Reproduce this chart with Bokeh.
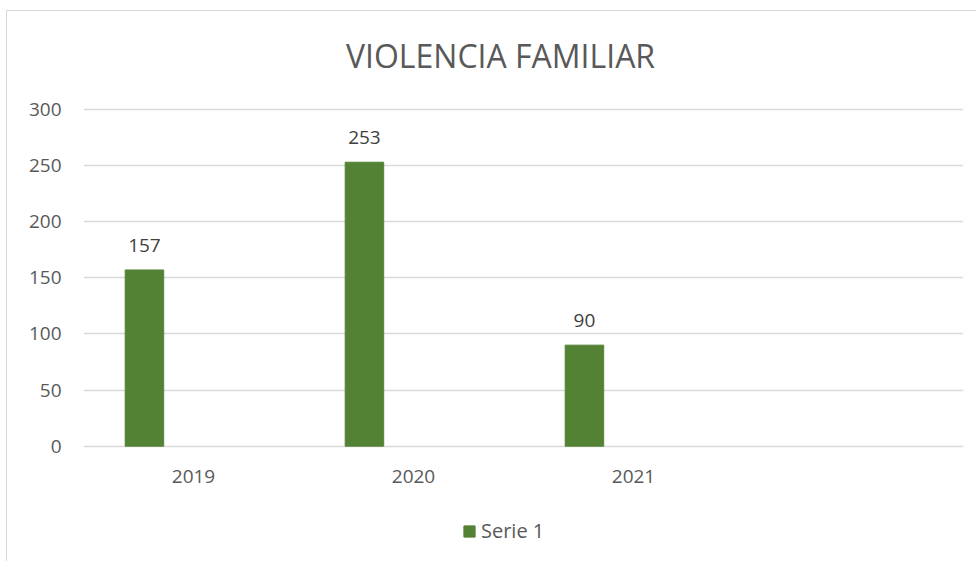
from bokeh.plotting import figure
from bokeh.models import (ColumnDataSource, LabelSet, Label, Range1d, FixedTicker,
                          Legend, LegendItem)
from bokeh.core.properties import value
from bokeh.embed import file_html
from bokeh.resources import INLINE

# ---- data ----
categories = ["2019", "2020", "2021", ""]
serie1 = [157, 253, 90]
series_name = "Serie 1"
title_text = "VIOLENCIA FAMILIAR"
y_ticks = [0, 50, 100, 150, 200, 250, 300]

# ---- style ----
BAR_COLOR = "#548235"
TEXT_COLOR = "#595959"
LABEL_COLOR = "#404040"
GRID_COLOR = "#d9d9d9"
FONT = "Open Sans"
BAR_OFFSET = -0.223
BAR_WIDTH = 0.175

xs = [i + 0.5 + BAR_OFFSET for i in range(len(serie1))]
src = ColumnDataSource(dict(x=xs, top=serie1, lab=[str(v) for v in serie1]))
cat_src = ColumnDataSource(dict(x=[i + 0.5 for i in range(len(categories))],
                                y=[0] * len(categories), lab=categories))

# frame spans the full height; y range extends above/below the data area
p = figure(width=970, height=551, output_backend="svg", toolbar_location=None,
           x_range=Range1d(0, len(categories)), y_range=Range1d(-99.2, 387.3),
           x_axis_location=None,
           min_border_left=76, min_border_right=14, min_border_top=0,
           min_border_bottom=5)
p.styles = {"border-top": "1px solid #d9d9d9", "border-left": "1px solid #d9d9d9",
            "margin-left": "6px", "margin-top": "10px"}
p.outline_line_color = None
p.background_fill_color = "white"
p.border_fill_color = "white"

title = Label(x=417, y=502, x_units="screen", y_units="screen", text=title_text,
              text_align="center", text_baseline="alphabetic", text_font=FONT,
              text_font_size="32px", text_color=TEXT_COLOR)
p.add_layout(title)

r = p.vbar(x="x", top="top", width=BAR_WIDTH, bottom=0, source=src,
           fill_color=BAR_COLOR, line_color=BAR_COLOR)

labels = LabelSet(x="x", y="top", text="lab", source=src, text_align="center",
                  text_baseline="alphabetic", y_offset=18, text_font=value(FONT),
                  text_font_size=value("19px"), text_color=LABEL_COLOR)
p.add_layout(labels)

cat_labels = LabelSet(x="x", y="y", text="lab", source=cat_src, text_align="center",
                      text_baseline="middle", y_offset=-30, text_font=value(FONT),
                      text_font_size=value("19px"), text_color=TEXT_COLOR)
p.add_layout(cat_labels)

# y axis
p.yaxis.ticker = FixedTicker(ticks=y_ticks)
ax = p.yaxis[0]
ax.axis_line_color = None
ax.major_tick_line_color = None
ax.minor_tick_line_color = None
ax.major_tick_out = 0
ax.major_tick_in = 0
ax.major_label_text_font = FONT
ax.major_label_text_font_size = "19px"
ax.major_label_text_color = TEXT_COLOR
ax.major_label_standoff = 22

p.xgrid.grid_line_color = None
p.ygrid.ticker = FixedTicker(ticks=y_ticks)
p.ygrid.grid_line_color = GRID_COLOR
p.ygrid.grid_line_width = 1.3

legend = Legend(items=[LegendItem(label=series_name, renderers=[r])],
                location=(379, 13), orientation="horizontal",
                border_line_color=None, background_fill_alpha=0,
                padding=0, margin=0, glyph_width=14, glyph_height=14,
                label_standoff=5, label_text_font=FONT,
                label_text_font_size="20px", label_text_color=TEXT_COLOR)
p.add_layout(legend, "center")

open("out.html", "w").write(file_html(p, INLINE))
